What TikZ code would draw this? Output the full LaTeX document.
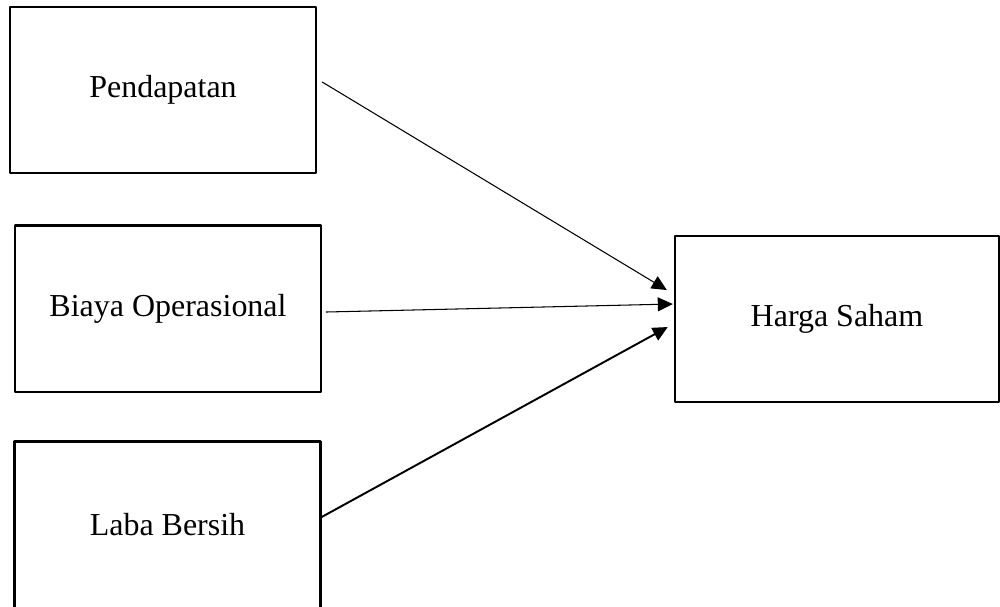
\documentclass[tikz,border=0pt]{standalone}
\usepackage{fontspec}
\setmainfont{Liberation Serif}
\usetikzlibrary{arrows.meta}

\tikzset{
	varbox/.style={draw=black,line width=1.4pt,minimum width=6.12cm,minimum height=3.33cm,inner sep=0pt,font=\fontsize{18.2}{22}\selectfont},
	thinarrow/.style={->,line width=0.6pt},
	thickarrow/.style={->,line width=1.1pt}
}

\begin{document}
\begin{tikzpicture}[line cap=round,line join=round,>={Triangle[length=0.3cm,width=0.28cm]},x=0.02cm,y=-0.02cm]
		\useasboundingbox (0,0) rectangle (1000,606);
		\clip (0,0) rectangle (1000,606);
		\node[varbox] (pend) at (163,90) {Pendapatan};
		\node[varbox] (biaya) at (168,308.5) {Biaya Operasional};
		\node[varbox] (laba) at (167.5,524.5) {Laba Bersih};
		\node[varbox,minimum width=6.48cm] (harga) at (837,319) {Harga Saham};
		\draw [thinarrow] ([xshift=0.1cm,yshift=0.16cm]pend.east) -- ([xshift=-0.14cm,yshift=0.58cm]harga.west);
		\draw [thinarrow] ([xshift=0.08cm,yshift=-0.07cm]biaya.east) -- ([xshift=-0.02cm,yshift=0.3cm]harga.west);
		\draw [thickarrow] ([yshift=0.15cm]laba.east) -- ([xshift=-0.12cm,yshift=-0.16cm]harga.west);
	\end{tikzpicture}
\end{document}
